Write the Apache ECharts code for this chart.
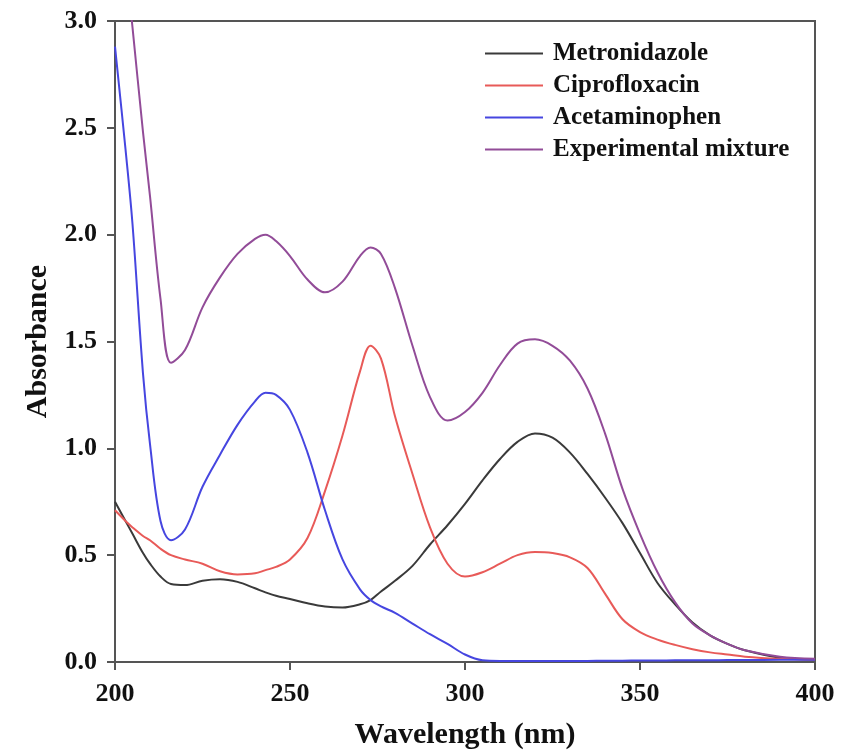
<!DOCTYPE html>
<html>
<head>
<meta charset="utf-8">
<script src="https://cdn.jsdelivr.net/npm/echarts@6/dist/echarts.min.js"></script>
<style>
  html, body { margin: 0; padding: 0; background: #fff; }
  #main { width: 846px; height: 755px; }
</style>
</head>
<body>
<div id="main"></div>
<script>
// 波长 (nm)
var wavelength = [200, 203, 205, 208, 210, 213, 216, 220, 225, 230, 235, 240, 243, 246, 250, 255, 260, 265, 270, 273, 276, 280, 285, 290, 295, 300, 305, 310, 315, 320, 325, 330, 335, 340, 345, 350, 355, 360, 365, 370, 375, 380, 390, 400];

var metronidazole = [0.75, 0.66, 0.60, 0.51, 0.46, 0.40, 0.365, 0.36, 0.38, 0.387, 0.375, 0.345, 0.326, 0.31, 0.295, 0.275, 0.26, 0.255, 0.27, 0.29, 0.33, 0.38, 0.45, 0.55, 0.64, 0.74, 0.85, 0.95, 1.03, 1.07, 1.05, 0.98, 0.88, 0.77, 0.65, 0.51, 0.37, 0.27, 0.185, 0.125, 0.085, 0.055, 0.02, 0.01];

var ciprofloxacin = [0.71, 0.66, 0.63, 0.59, 0.57, 0.53, 0.50, 0.48, 0.46, 0.425, 0.41, 0.415, 0.43, 0.445, 0.48, 0.58, 0.80, 1.06, 1.36, 1.48, 1.42, 1.15, 0.88, 0.63, 0.46, 0.40, 0.42, 0.46, 0.50, 0.515, 0.51, 0.49, 0.44, 0.32, 0.20, 0.14, 0.105, 0.08, 0.06, 0.045, 0.035, 0.025, 0.015, 0.01];

var acetaminophen = [2.88, 2.40, 2.05, 1.35, 1.02, 0.66, 0.57, 0.62, 0.82, 0.97, 1.11, 1.22, 1.26, 1.25, 1.18, 0.98, 0.71, 0.48, 0.34, 0.29, 0.26, 0.23, 0.18, 0.13, 0.085, 0.035, 0.008, 0.005, 0.005, 0.005, 0.005, 0.005, 0.005, 0.006, 0.006, 0.007, 0.007, 0.008, 0.008, 0.008, 0.009, 0.009, 0.01, 0.01];

var mixture = [3.77, 3.29, 2.97, 2.48, 2.18, 1.70, 1.40, 1.46, 1.66, 1.80, 1.91, 1.98, 2.00, 1.97, 1.90, 1.79, 1.73, 1.78, 1.90, 1.94, 1.91, 1.75, 1.48, 1.24, 1.13, 1.17, 1.26, 1.39, 1.49, 1.51, 1.48, 1.41, 1.28, 1.07, 0.81, 0.60, 0.42, 0.28, 0.18, 0.125, 0.085, 0.055, 0.025, 0.015];

var seriesNames = ['Metronidazole', 'Ciprofloxacin', 'Acetaminophen', 'Experimental mixture'];
var seriesColors = ['#3a3a3a', '#e85a58', '#4646e0', '#924c98'];

function pairs(ys) {
  return wavelength.map(function (x, i) { return [x, ys[i]]; });
}

var myChart = echarts.init(document.getElementById('main'));
var fontFamily = '"Liberation Serif", "Times New Roman", serif';

var seriesData = [metronidazole, ciprofloxacin, acetaminophen, mixture];

var option = {
  backgroundColor: '#fff',
  animation: false,
  textStyle: { fontFamily: fontFamily },
  grid: {
    left: 115, right: 31, top: 21, bottom: 90,
    show: true,
    borderColor: '#555',
    borderWidth: 2
  },
  legend: {
    orient: 'vertical',
    left: 480,
    top: 36,
    icon: 'rect',
    itemWidth: 58,
    itemHeight: 2,
    itemGap: 7,
    data: seriesNames,
    textStyle: {
      fontFamily: fontFamily,
      fontWeight: 'bold',
      fontSize: 25,
      lineHeight: 25,
      color: '#111',
      padding: [0, 0, 0, 5]
    }
  },
  xAxis: {
    type: 'value',
    min: 200,
    max: 400,
    interval: 50,
    name: 'Wavelength (nm)',
    nameLocation: 'middle',
    nameGap: 58,
    nameTextStyle: { fontFamily: fontFamily, fontWeight: 'bold', fontSize: 30, color: '#111' },
    axisLine: { lineStyle: { color: '#555', width: 2 } },
    axisTick: { length: 8, lineStyle: { color: '#555', width: 2 } },
    axisLabel: { margin: 19, fontFamily: fontFamily, fontWeight: 'bold', fontSize: 26, color: '#111' },
    splitLine: { show: false }
  },
  yAxis: {
    type: 'value',
    min: 0,
    max: 3,
    interval: 0.5,
    name: 'Absorbance',
    nameLocation: 'middle',
    nameGap: 62,
    nameTextStyle: { fontFamily: fontFamily, fontWeight: 'bold', fontSize: 30, color: '#111' },
    axisLine: { lineStyle: { color: '#555', width: 2 } },
    axisTick: { length: 8, lineStyle: { color: '#555', width: 2 } },
    axisLabel: {
      margin: 18,
      fontFamily: fontFamily, fontWeight: 'bold', fontSize: 26, color: '#111',
      formatter: function (v) { return v.toFixed(1); }
    },
    splitLine: { show: false }
  },
  series: seriesNames.map(function (name, i) {
    return {
      name: name,
      type: 'line',
      smooth: 0.35,
      showSymbol: false,
      clip: true,
      color: seriesColors[i],
      lineStyle: { width: 2, color: seriesColors[i] },
      data: pairs(seriesData[i])
    };
  })
};

myChart.setOption(option);
</script>
</body>
</html>
